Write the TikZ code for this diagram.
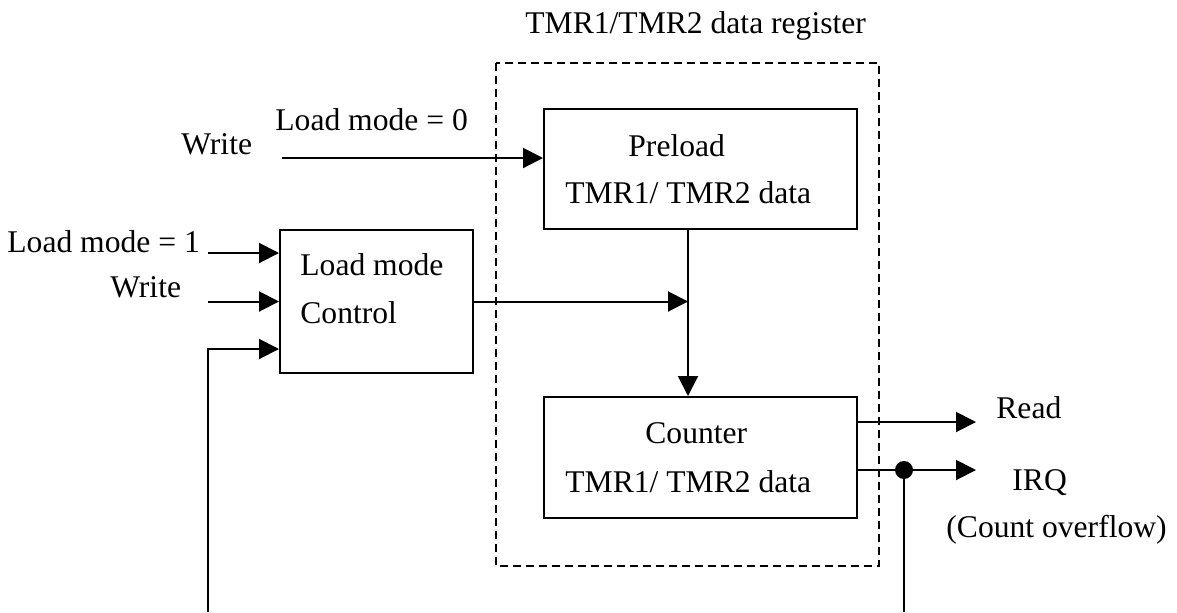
\documentclass[tikz,border=0pt]{standalone}
\usepackage{fontspec}
\setmainfont{Liberation Serif}
\usetikzlibrary{arrows.meta,calc}
\begin{document}
\begin{tikzpicture}[x=0.5pt,y=-0.5pt,
    >={Triangle[length=10pt,width=10pt]},
    wire/.style={line width=1pt},
    blk/.style={draw,line width=1pt,inner sep=0pt},
    txt/.style={inner sep=0pt,anchor=base west,font=\fontsize{15.8}{19}\selectfont}]
      \useasboundingbox (0,0) rectangle (1177,612);
      \draw[dashed,line width=0.8pt,dash pattern=on 4pt off 2.5pt] (496,63) rectangle (879,566);
      \node[txt] (title) at (525,33) {TMR1/TMR2 data register};
      % blocks
      \node[blk,minimum width=156.5pt,minimum height=60pt] (pre) at (700.5,169) {};
      \node[blk,minimum width=156.5pt,minimum height=60.5pt] (cnt) at (700.5,457.5) {};
      \node[blk,minimum width=96.5pt,minimum height=71.5pt] (ctl) at (376.5,301.5) {};
      \node[txt] (pre1) at (628,156) {Preload};
      \node[txt] (pre2) at (565,203) {TMR1/ TMR2 data};
      \node[txt] (cnt1) at (645,443) {Counter};
      \node[txt] (cnt2) at (565,492) {TMR1/ TMR2 data};
      \node[txt] (ctl1) at (300,275) {Load mode};
      \node[txt] (ctl2) at (300,323) {Control};
      % inputs
      \node[txt] (wr0) at (181,154) {Write};
      \node[txt] (lm0) at (275,130) {Load mode = 0};
      \node[txt] (lm1) at (7,252) {Load mode = 1};
      \node[txt] (wr1) at (110,297) {Write};
      \coordinate (wrin) at (282,158);
      \draw[wire,->] (wrin) -- (wrin -| pre.west);
      \coordinate (lmin) at ($(ctl.west)+(-71,-48.5)$);
      \coordinate (wr1in) at ($(ctl.west)+(-71,0)$);
      \draw[wire,->] (lmin) -- (lmin -| ctl.west);
      \draw[wire,->] (wr1in) -- (ctl.west);
      \coordinate (fbl) at (208,612);
      \draw[wire,->] (fbl) |- ($(ctl.west)+(0,47.5)$);
      % data path
      \coordinate (tap) at ($(pre.south)+(-12.5,0)$);
      \draw[wire,->] (tap) -- (tap |- cnt.north);
      \draw[wire,->] (ctl.east) -- (ctl.east -| tap);
      % outputs
      \coordinate (rdout) at ($(cnt.east)+(0,-35.5)$);
      \coordinate (irqout) at ($(cnt.east)+(0,12.5)$);
      \draw[wire,->] (rdout) -- ++(118,0);
      \draw[wire,->] (irqout) -- ++(118,0);
      \node[circle,fill,inner sep=0pt,minimum size=9pt] (jn) at (904,470) {};
      \coordinate (fbr) at (904,612);
      \draw[wire] (jn) -- (fbr);
      \node[txt] (rd) at (996,418) {Read};
      \node[txt] (irq) at (1012,490) {IRQ};
      \node[txt] (ovf) at (946,537) {(Count overflow)};
\end{tikzpicture}
\end{document}
